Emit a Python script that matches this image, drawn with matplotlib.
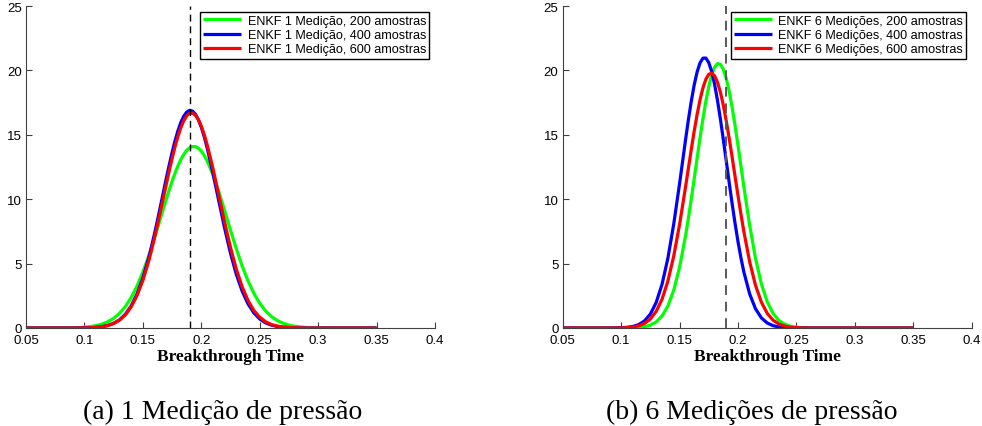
import matplotlib
matplotlib.use("Agg")
import matplotlib.pyplot as plt

# curvas de densidade do breakthrough time
x_pts = [0.05, 0.09, 0.095, 0.10, 0.105, 0.11, 0.115, 0.12, 0.125, 0.13, 0.135,
         0.14, 0.145, 0.15, 0.155,
         0.1575, 0.16, 0.1625, 0.165, 0.1675, 0.17, 0.1725, 0.175, 0.1775, 0.18,
         0.1825, 0.185, 0.1875, 0.19, 0.1925, 0.195, 0.1975, 0.20, 0.2025, 0.205,
         0.21, 0.215, 0.22, 0.225, 0.23, 0.235, 0.24, 0.245, 0.25, 0.255,
         0.26, 0.265, 0.27, 0.275, 0.28, 0.285, 0.29, 0.295, 0.30, 0.305, 0.31,
         0.35]

# 1 medicao
g1_200 = [0, 0.02, 0.03, 0.06, 0.11, 0.18, 0.30, 0.48, 0.75, 1.14, 1.66,
          2.36, 3.25, 4.33, 5.59,
          6.28, 7.00, 7.74, 8.49, 9.24, 9.99, 10.71, 11.39, 12.02, 12.58,
          13.07, 13.48, 13.79, 13.99, 14.09, 14.08, 13.96, 13.73, 13.40, 12.98,
          11.90, 10.57, 9.10, 7.59, 6.14, 4.81, 3.66, 2.69, 1.92, 1.33,
          0.89, 0.58, 0.37, 0.22, 0.13, 0.08, 0.04, 0.02, 0.01, 0.005, 0,
          0]
b1_400 = [0, 0, 0.005, 0.01, 0.02, 0.05, 0.10, 0.20, 0.36, 0.63, 1.06,
          1.71, 2.64, 3.88, 5.45,
          6.36, 7.33, 8.36, 9.43, 10.51, 11.59, 12.63, 13.62, 14.52, 15.31,
          15.96, 16.45, 16.76, 16.90, 16.84, 16.60, 16.17, 15.59, 14.85, 13.99,
          12.01, 9.86, 7.74, 5.80, 4.16, 2.86, 1.87, 1.17, 0.70, 0.40,
          0.22, 0.12, 0.06, 0.03, 0.01, 0.005, 0, 0, 0, 0, 0,
          0]
r1_600 = [0, 0, 0.005, 0.01, 0.02, 0.05, 0.10, 0.19, 0.35, 0.61, 1.02,
          1.64, 2.52, 3.70, 5.20,
          6.07, 7.01, 8.00, 9.03, 10.09, 11.14, 12.18, 13.16, 14.07, 14.87,
          15.56, 16.09, 16.47, 16.67, 16.69, 16.52, 16.18, 15.68, 15.02, 14.24,
          12.38, 10.30, 8.20, 6.25, 4.56, 3.19, 2.13, 1.36, 0.84, 0.49,
          0.27, 0.15, 0.08, 0.04, 0.02, 0.01, 0, 0, 0, 0, 0,
          0]

# 6 medicoes
g6_200 = [0, 0, 0, 0, 0.01, 0.02, 0.04, 0.10, 0.22, 0.47, 0.93,
          1.70, 2.93, 4.71, 7.09,
          8.49, 9.99, 11.57, 13.17, 14.75, 16.24, 17.60, 18.75, 19.65, 20.25,
          20.53, 20.47, 20.08, 19.36, 18.37, 17.13, 15.72, 14.19, 12.59, 10.99,
          7.97, 5.41, 3.43, 2.04, 1.13, 0.59, 0.29, 0.13, 0.06, 0.02,
          0.01, 0, 0, 0, 0, 0, 0, 0, 0, 0, 0,
          0]
b6_400 = [0, 0, 0.01, 0.02, 0.05, 0.12, 0.26, 0.55, 1.08, 1.98, 3.39,
          5.41, 8.06, 11.20, 14.53,
          16.13, 17.59, 18.86, 19.87, 20.58, 20.95, 20.96, 20.60, 19.91, 18.91,
          17.65, 16.19, 14.60, 12.94, 11.27, 9.65, 8.12, 6.71, 5.46, 4.36,
          2.64, 1.49, 0.79, 0.39, 0.18, 0.08, 0.03, 0.01, 0, 0,
          0, 0, 0, 0, 0, 0, 0, 0, 0, 0, 0,
          0]
r6_600 = [0, 0, 0, 0.01, 0.03, 0.08, 0.17, 0.35, 0.70, 1.29, 2.23,
          3.64, 5.58, 8.03, 10.88,
          12.37, 13.85, 15.27, 16.57, 17.71, 18.64, 19.31, 19.70, 19.79, 19.58,
          19.07, 18.29, 17.28, 16.06, 14.71, 13.26, 11.77, 10.29, 8.85, 7.50,
          5.14, 3.31, 2.01, 1.14, 0.61, 0.31, 0.15, 0.06, 0.03, 0.01,
          0, 0, 0, 0, 0, 0, 0, 0, 0, 0, 0,
          0]

t_ref = 0.19
xticks = [0.05, 0.1, 0.15, 0.2, 0.25, 0.3, 0.35, 0.4]
xticklabels = ['0.05', '0.1', '0.15', '0.2', '0.25', '0.3', '0.35', '0.4']
yticks = [0, 5, 10, 15, 20, 25]

labels1 = ['ENKF 1 Medição, 200 amostras', 'ENKF 1 Medição, 400 amostras',
           'ENKF 1 Medição, 600 amostras']
labels6 = ['ENKF 6 Medições, 200 amostras', 'ENKF 6 Medições, 400 amostras',
           'ENKF 6 Medições, 600 amostras']
captions = ['(a) 1 Medição de pressão', '(b) 6 Medições de pressão']

plt.rcParams['font.family'] = ['Liberation Sans', 'DejaVu Sans']

fig = plt.figure(figsize=(9.82, 4.27), dpi=100)
ax1 = fig.add_axes([26/982, 1-329/427, 409/982, 322/427])
ax2 = fig.add_axes([562.7/982, 1-329/427, 409/982, 322/427])

cores = [(0, 1, 0), (0, 0, 1), (1, 0, 0)]


def desenha(ax, series, labels, dash_col, dash_lw):
    hs = []
    for ys, c, lab in zip(series, cores, labels):
        h, = ax.plot(x_pts, ys, color=c, lw=2.3, label=lab,
                     solid_joinstyle='round', solid_capstyle='butt')
        hs.append(h)
    # linha tracejada por cima das curvas
    ax.plot([t_ref, t_ref], [0, 25], linestyle=(0, (5, 3.5)), color=dash_col,
            lw=dash_lw, zorder=3)
    ax.set_xlim(0.05, 0.4)
    ax.set_ylim(0, 25)
    ax.set_xticks(xticks)
    ax.set_xticklabels(xticklabels)
    ax.set_yticks(yticks)
    ax.spines['top'].set_visible(False)
    ax.spines['right'].set_visible(False)
    for s in ['left', 'bottom']:
        ax.spines[s].set_color('0.25')
        ax.spines[s].set_linewidth(0.8)
    ax.tick_params(direction='in', length=4, width=0.8, color='0.25',
                   labelsize=9.5)
    ax.tick_params(axis='x', pad=4)
    ax.tick_params(axis='y', pad=3)
    ax.set_xlabel('Breakthrough Time', family='Liberation Serif',
                  fontweight='bold', fontsize=12.5, labelpad=2)
    leg = ax.legend(handles=hs, loc='upper right', bbox_to_anchor=(1.0, 1.0),
                    fontsize=9.1, handlelength=3.0, handletextpad=0.5,
                    labelspacing=0.18, borderpad=0.25, borderaxespad=0.45,
                    fancybox=False, framealpha=1)
    leg.set_zorder(5)
    leg.get_frame().set_edgecolor('black')
    leg.get_frame().set_linewidth(1.0)


desenha(ax1, [g1_200, b1_400, r1_600], labels1, 'black', 1.0)
desenha(ax2, [g6_200, b6_400, r6_600], labels6, '0.35', 1.4)

fig.text(223/982, 1-412/427, captions[0], family='Liberation Serif',
         fontsize=20, ha='center', va='center')
fig.text(752/982, 1-412/427, captions[1], family='Liberation Serif',
         fontsize=20, ha='center', va='center')

fig.savefig('out.png', dpi=100)
